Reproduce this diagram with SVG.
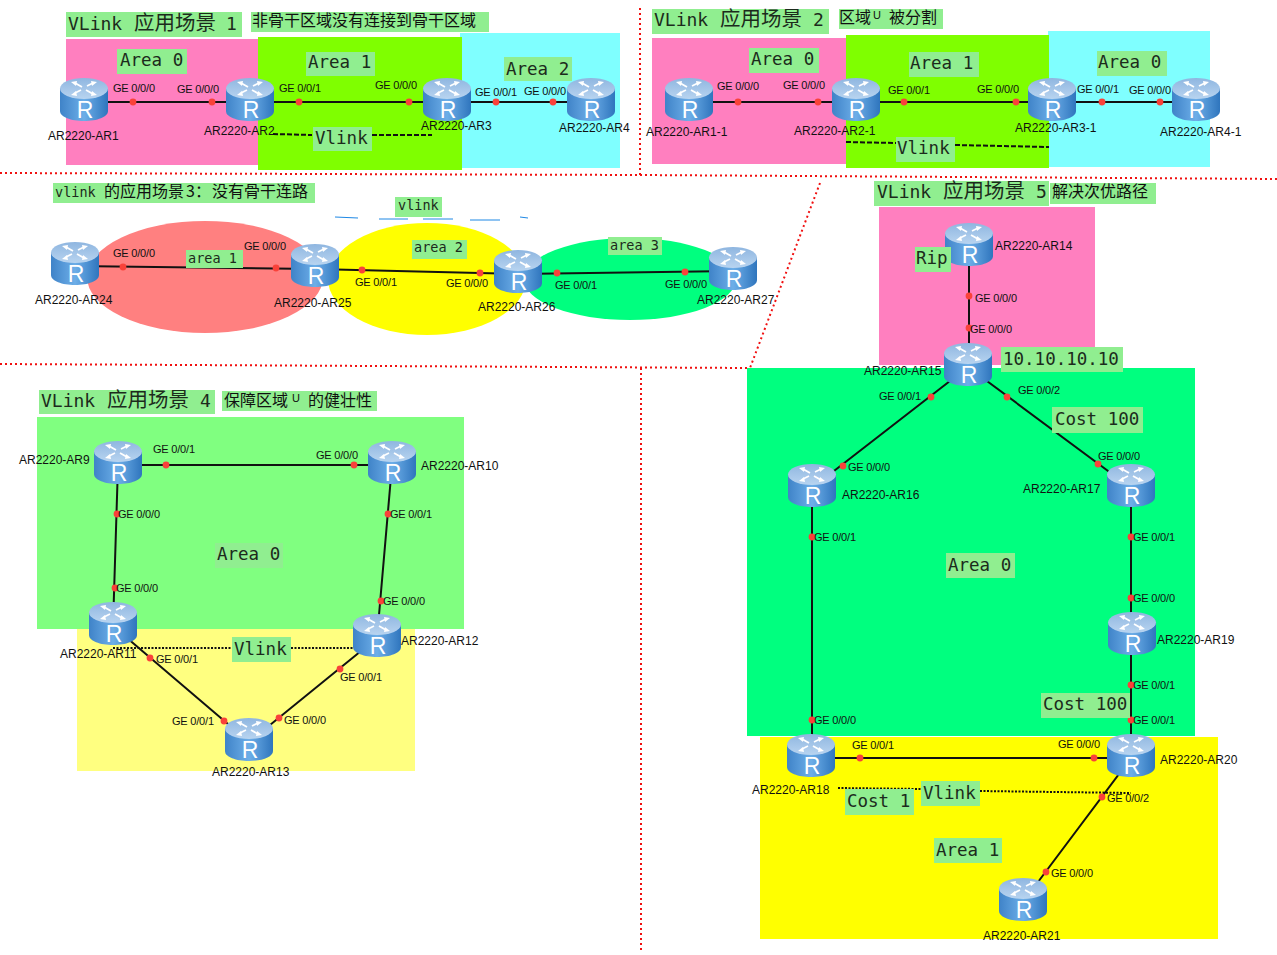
<svg xmlns="http://www.w3.org/2000/svg" width="1277" height="955" viewBox="0 0 1277 955">
<style>
.t{font-family:"DejaVu Sans Mono","Noto Sans CJK SC",monospace;font-size:17.5px;fill:#1c2b1c}
.h{font-size:18px}
.h .c{font-size:20.5px}
.s{font-family:"Noto Sans CJK SC","DejaVu Sans",sans-serif;font-size:16px;fill:#111}
.s .u{font-family:"Liberation Sans",sans-serif;font-size:11px}
.lb{fill:#90EE90}
.n{font-family:"Liberation Sans",Arial,sans-serif;font-size:12px;fill:#111}
.g{font-family:"Liberation Sans",Arial,sans-serif;font-size:11px;fill:#111;letter-spacing:-.2px}
.l{stroke:#111;stroke-width:2;fill:none}
.d{stroke:#111;stroke-width:2;fill:none;stroke-dasharray:5 2}
.dt{stroke:#111;stroke-width:2;fill:none;stroke-dasharray:2 1.5}
.r{stroke:#f01010;stroke-width:2;fill:none;stroke-dasharray:2 3}
.p{fill:#f9423a}
.p circle{r:3.4px}
.R{font-family:"Liberation Sans",Arial,sans-serif;font-size:23px;fill:#fff}
.ar{stroke:#fff;stroke-width:1.800;fill:none}
</style>
<defs>
<linearGradient id="b" x1="0" x2="1" y1="0" y2="0"><stop offset="0" stop-color="#3f83c8"/><stop offset=".5" stop-color="#6daee8"/><stop offset="1" stop-color="#2f75bd"/></linearGradient>
<linearGradient id="c" x1="0" x2="0" y1="0" y2="1"><stop offset="0" stop-color="#8fb6e0"/><stop offset="1" stop-color="#b8d4f0"/></linearGradient>
<g id="rt">
<path d="M-24-12V11C-24 17-13 21 0 21S24 17 24 11V-12Z" fill="url(#b)"/>
<ellipse cx="0" cy="-11.500" rx="24" ry="10.500" fill="url(#c)"/>
<path class="ar" d="M-2-13L-9-17M3-14L9-17M-3-10L-9-7M2-10L9-6"/>
<path d="M-13-18l6-1-1 5zM13-18l-6-1 1 5zM-13-5l6 1-1-5zM13-5l-6 1 1-5z" fill="#fff"/>
<text class="R" x="1" y="18" text-anchor="middle">R</text>
</g>
</defs>
<rect width="1277" height="955" fill="#fff"/>
<g id="areas">
<rect x="66" y="39" width="192" height="126" fill="#FF7FBF"/>
<rect x="460" y="33" width="160" height="135" fill="#7FFFFF"/>
<rect x="258" y="37" width="204" height="133" fill="#7FFF00"/>
<rect x="652" y="38" width="196" height="126" fill="#FF7FBF"/>
<rect x="1048" y="31" width="162" height="136" fill="#7FFFFF"/>
<rect x="846" y="35" width="203" height="133" fill="#7FFF00"/>
<ellipse cx="205" cy="277" rx="118" ry="56" fill="#FF8080"/>
<ellipse cx="427" cy="279" rx="99" ry="56" fill="#FFFF00"/>
<ellipse cx="630" cy="279" rx="106" ry="41" fill="#00FF7F"/>
<rect x="37" y="417" width="427" height="212" fill="#80FF80"/>
<rect x="77" y="629" width="338" height="142" fill="#FFFF80"/>
<rect x="879" y="207" width="216" height="158" fill="#FF7FBF"/>
<rect x="747" y="368" width="448" height="368" fill="#00FF7F"/>
<rect x="760" y="737" width="458" height="202" fill="#FFFF00"/>
</g>
<g id="dividers">
<path class="r" d="M0 173L640 175L1277 179M640 8V175M0 364L750 368M641 368V950M820 183L750 368"/>
</g>
<g id="connectors">
<path class="l" d="M84 102H591"/>
<path class="l" d="M689 102H1196"/>
<path class="d" d="M273 134L312 135M372 135H432"/>
<path class="d" d="M846 142L896 143M955 145L1049 147"/>
<path d="M335 217L358 218M379 219H408M423 219H453M470 220H500M520 217L528 218" stroke="#1e88e5" stroke-width="1" fill="none"/>
<path class="l" d="M75 266L315 269M315 269L518 274M518 274L733 271"/>
<path class="l" d="M118 465H392M118 465L113 626M392 465L377 638M113 626L249 742L377 638"/>
<path class="dt" d="M113 648H232M291 648H377"/>
<path class="l" d="M969 247V367M968 367L812 488M968 367L1131 488M812 488V758M1131 488V758M812 758H1131M1131 758L1023 902"/>
<path class="dt" d="M838 788L921 789M980 791L1131 793"/>
</g>
<g id="points" class="p">
<circle cx="133" cy="102" r="3"/><circle cx="212" cy="102" r="3"/><circle cx="299" cy="102" r="3"/><circle cx="409" cy="102" r="3"/><circle cx="496" cy="102" r="3"/><circle cx="553" cy="102" r="3"/>
<circle cx="738" cy="102" r="3"/><circle cx="818" cy="102" r="3"/><circle cx="904" cy="102" r="3"/><circle cx="1016" cy="102" r="3"/><circle cx="1102" cy="102" r="3"/><circle cx="1160" cy="102" r="3"/>
<circle cx="123" cy="267" r="3"/><circle cx="276" cy="268" r="3"/><circle cx="362" cy="270" r="3"/><circle cx="480" cy="273" r="3"/><circle cx="557" cy="273" r="3"/><circle cx="685" cy="272" r="3"/>
<circle cx="166" cy="465" r="3"/><circle cx="354" cy="465" r="3"/><circle cx="117" cy="514" r="3"/><circle cx="115" cy="588" r="3"/><circle cx="388" cy="514" r="3"/><circle cx="381" cy="601" r="3"/><circle cx="150" cy="658" r="3"/><circle cx="224" cy="721" r="3"/><circle cx="340" cy="669" r="3"/><circle cx="279" cy="718" r="3"/>
<circle cx="969" cy="296" r="3"/><circle cx="969" cy="328" r="3"/><circle cx="931" cy="397" r="3"/><circle cx="843" cy="466" r="3"/><circle cx="1007" cy="397" r="3"/><circle cx="1098" cy="464" r="3"/><circle cx="812" cy="537" r="3"/><circle cx="812" cy="720" r="3"/><circle cx="1131" cy="537" r="3"/><circle cx="1131" cy="598" r="3"/><circle cx="1131" cy="685" r="3"/><circle cx="1131" cy="720" r="3"/><circle cx="860" cy="758" r="3"/><circle cx="1094" cy="758" r="3"/><circle cx="1102" cy="797" r="3"/><circle cx="1046" cy="872" r="3"/>
</g>
<g id="port-labels" class="g">
<text x="113" y="92">GE 0/0/0</text><text x="177" y="93">GE 0/0/0</text><text x="279" y="92">GE 0/0/1</text><text x="375" y="89">GE 0/0/0</text><text x="475" y="96">GE 0/0/1</text><text x="524" y="95">GE 0/0/0</text>
<text x="717" y="90">GE 0/0/0</text><text x="783" y="89">GE 0/0/0</text><text x="888" y="94">GE 0/0/1</text><text x="977" y="93">GE 0/0/0</text><text x="1077" y="93">GE 0/0/1</text><text x="1129" y="94">GE 0/0/0</text>
<text x="113" y="257">GE 0/0/0</text><text x="244" y="250">GE 0/0/0</text><text x="355" y="286">GE 0/0/1</text><text x="446" y="287">GE 0/0/0</text><text x="555" y="289">GE 0/0/1</text><text x="665" y="288">GE 0/0/0</text>
<text x="153" y="453">GE 0/0/1</text><text x="316" y="459">GE 0/0/0</text><text x="118" y="518">GE 0/0/0</text><text x="116" y="592">GE 0/0/0</text><text x="390" y="518">GE 0/0/1</text><text x="383" y="605">GE 0/0/0</text><text x="156" y="663">GE 0/0/1</text><text x="172" y="725">GE 0/0/1</text><text x="340" y="681">GE 0/0/1</text><text x="284" y="724">GE 0/0/0</text>
<text x="975" y="302">GE 0/0/0</text><text x="970" y="333">GE 0/0/0</text><text x="879" y="400">GE 0/0/1</text><text x="1018" y="394">GE 0/0/2</text><text x="848" y="471">GE 0/0/0</text><text x="1098" y="460">GE 0/0/0</text><text x="814" y="541">GE 0/0/1</text><text x="1133" y="541">GE 0/0/1</text><text x="1133" y="602">GE 0/0/0</text><text x="1133" y="689">GE 0/0/1</text><text x="1133" y="724">GE 0/0/1</text><text x="814" y="724">GE 0/0/0</text><text x="852" y="749">GE 0/0/1</text><text x="1058" y="748">GE 0/0/0</text><text x="1107" y="802">GE 0/0/2</text><text x="1051" y="877">GE 0/0/0</text>
</g>
<g id="node-ar1"><use href="#rt" x="84" y="100"/><text class="n" x="48" y="140">AR2220-AR1</text></g>
<g id="node-ar2"><use href="#rt" x="250" y="100"/><text class="n" x="204" y="135">AR2220-AR2</text></g>
<g id="node-ar3"><use href="#rt" x="447" y="100"/><text class="n" x="421" y="130">AR2220-AR3</text></g>
<g id="node-ar4"><use href="#rt" x="591" y="100"/><text class="n" x="559" y="132">AR2220-AR4</text></g>
<g id="node-ar1-1"><use href="#rt" x="689" y="100"/><text class="n" x="646" y="136">AR2220-AR1-1</text></g>
<g id="node-ar2-1"><use href="#rt" x="856" y="100"/><text class="n" x="794" y="135">AR2220-AR2-1</text></g>
<g id="node-ar3-1"><use href="#rt" x="1052" y="100"/><text class="n" x="1015" y="132">AR2220-AR3-1</text></g>
<g id="node-ar4-1"><use href="#rt" x="1196" y="100"/><text class="n" x="1160" y="136">AR2220-AR4-1</text></g>
<g id="node-ar24"><use href="#rt" x="75" y="264"/><text class="n" x="35" y="304">AR2220-AR24</text></g>
<g id="node-ar25"><use href="#rt" x="315" y="266"/><text class="n" x="274" y="307">AR2220-AR25</text></g>
<g id="node-ar26"><use href="#rt" x="518" y="272"/><text class="n" x="478" y="311">AR2220-AR26</text></g>
<g id="node-ar27"><use href="#rt" x="733" y="269"/><text class="n" x="697" y="304">AR2220-AR27</text></g>
<g id="node-ar9"><use href="#rt" x="118" y="463"/><text class="n" x="19" y="464">AR2220-AR9</text></g>
<g id="node-ar10"><use href="#rt" x="392" y="463"/><text class="n" x="421" y="470">AR2220-AR10</text></g>
<g id="node-ar11"><use href="#rt" x="113" y="624"/><text class="n" x="60" y="658">AR2220-AR11</text></g>
<g id="node-ar12"><use href="#rt" x="377" y="636"/><text class="n" x="401" y="645">AR2220-AR12</text></g>
<g id="node-ar13"><use href="#rt" x="249" y="740"/><text class="n" x="212" y="776">AR2220-AR13</text></g>
<g id="node-ar14"><use href="#rt" x="969" y="245"/><text class="n" x="995" y="250">AR2220-AR14</text></g>
<g id="node-ar15"><use href="#rt" x="968" y="365"/><text class="n" x="864" y="375">AR2220-AR15</text></g>
<g id="node-ar16"><use href="#rt" x="812" y="486"/><text class="n" x="842" y="499">AR2220-AR16</text></g>
<g id="node-ar17"><use href="#rt" x="1131" y="486"/><text class="n" x="1023" y="493">AR2220-AR17</text></g>
<g id="node-ar19"><use href="#rt" x="1132" y="634"/><text class="n" x="1157" y="644">AR2220-AR19</text></g>
<g id="node-ar18"><use href="#rt" x="811" y="756"/><text class="n" x="752" y="794">AR2220-AR18</text></g>
<g id="node-ar20"><use href="#rt" x="1131" y="756"/><text class="n" x="1160" y="764">AR2220-AR20</text></g>
<g id="node-ar21"><use href="#rt" x="1023" y="900"/><text class="n" x="983" y="940">AR2220-AR21</text></g>
<g id="labels">
<rect class="lb" x="66" y="12" width="176" height="25"/><text class="t h" x="68" y="30">VLink <tspan class="c" x="134">应用场景</tspan> <tspan x="226">1</tspan></text>
<rect class="lb" x="251" y="12" width="238" height="20"/><text class="s" x="252" y="26">非骨干区域没有连接到骨干区域</text>
<rect class="lb" x="117" y="49" width="70" height="25"/><text class="t" x="120" y="66">Area 0</text>
<rect class="lb" x="306" y="52" width="69" height="24"/><text class="t" x="308" y="68">Area 1</text>
<rect class="lb" x="504" y="57" width="68" height="24"/><text class="t" x="506" y="75">Area 2</text>
<rect class="lb" x="313" y="127" width="59" height="24"/><text class="t" x="315" y="144">Vlink</text>
<rect class="lb" x="652" y="9" width="177" height="25"/><text class="t h" x="654" y="26">VLink <tspan class="c" x="720">应用场景</tspan> <tspan x="813">2</tspan></text>
<rect class="lb" x="839" y="9" width="104" height="20"/><text class="s" x="839" y="23">区域<tspan class="u" x="873" dy="-4">U</tspan><tspan x="889" dy="4">被分割</tspan></text>
<rect class="lb" x="749" y="48" width="70" height="25"/><text class="t" x="751" y="65">Area 0</text>
<rect class="lb" x="909" y="52" width="70" height="25"/><text class="t" x="910" y="69">Area 1</text>
<rect class="lb" x="1097" y="51" width="70" height="25"/><text class="t" x="1098" y="68">Area 0</text>
<rect class="lb" x="896" y="137" width="59" height="25"/><text class="t" x="897" y="154">Vlink</text>
<rect class="lb" x="53" y="183" width="262" height="20"/><text class="s" x="104" y="197"><tspan class="t" style="font-size:13.500px" x="55">vlink</tspan> <tspan x="104">的应用场景</tspan><tspan x="186">3：</tspan><tspan x="212">没有骨干连路</tspan></text>
<rect class="lb" x="395" y="197" width="47" height="20"/><text class="t" style="font-size:13.500px" x="398" y="210">vlink</text>
<rect class="lb" x="186" y="250" width="57" height="18"/><text class="t" style="font-size:13.500px" x="188" y="263">area 1</text>
<rect class="lb" x="412" y="240" width="55" height="19"/><text class="t" style="font-size:13.500px" x="414" y="252">area 2</text>
<rect class="lb" x="608" y="237" width="54" height="18"/><text class="t" style="font-size:13.500px" x="610" y="250">area 3</text>
<rect class="lb" x="39" y="390" width="176" height="24"/><text class="t h" x="41" y="407">VLink <tspan class="c" x="107">应用场景</tspan> <tspan x="200">4</tspan></text>
<rect class="lb" x="222" y="391" width="155" height="20"/><text class="s" x="224" y="406">保障区域<tspan class="u" x="292" dy="-4">U</tspan><tspan x="308" dy="4">的健壮性</tspan></text>
<rect class="lb" x="215" y="543" width="68" height="25"/><text class="t" x="217" y="560">Area 0</text>
<rect class="lb" x="232" y="637" width="59" height="25"/><text class="t" x="234" y="655">Vlink</text>
<rect class="lb" x="874" y="181" width="175" height="25"/><text class="t h" x="877" y="198">VLink <tspan class="c" x="943">应用场景</tspan> <tspan x="1036">5</tspan></text>
<rect class="lb" x="1050" y="183" width="106" height="21"/><text class="s" x="1052" y="197">解决次优路径</text>
<rect class="lb" x="915" y="247" width="36" height="25"/><text class="t" x="916" y="264">Rip</text>
<rect class="lb" x="1001" y="347" width="122" height="25"/><text class="t" x="1003" y="365">10.10.10.10</text>
<rect class="lb" x="1052" y="407" width="91" height="26"/><text class="t" x="1055" y="425">Cost 100</text>
<rect class="lb" x="946" y="553" width="69" height="25"/><text class="t" x="948" y="571">Area 0</text>
<rect class="lb" x="1041" y="693" width="89" height="25"/><text class="t" x="1043" y="710">Cost 100</text>
<rect class="lb" x="845" y="789" width="69" height="26"/><text class="t" x="847" y="807">Cost 1</text>
<rect class="lb" x="921" y="781" width="59" height="25"/><text class="t" x="923" y="799">Vlink</text>
<rect class="lb" x="934" y="838" width="68" height="25"/><text class="t" x="936" y="856">Area 1</text>
</g>
</svg>
